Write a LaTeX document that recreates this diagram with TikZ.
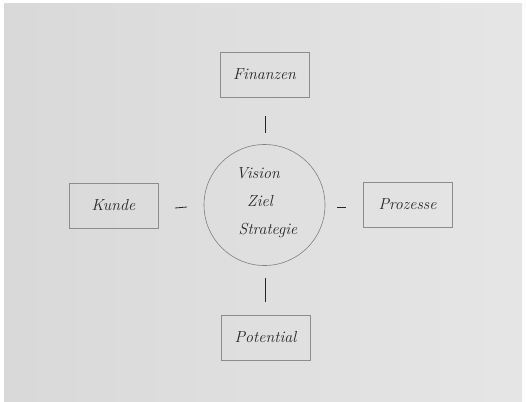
\documentclass[tikz,border=0pt]{standalone}
\begin{document}
\begin{tikzpicture}[x=1pt,y=-1pt,
  box/.style={draw=black!45, line width=0.7pt, minimum width=89pt, minimum height=45pt, inner sep=0pt, font=\itshape\fontsize{16}{18}\selectfont, text=black!85},
  ring/.style={circle, draw=black!50, line width=0.6pt, minimum size=121pt, inner sep=0pt},
  lbl/.style={font=\itshape\fontsize{16}{18}\selectfont, text=black!85, inner sep=0pt},
  tick/.style={draw=black!85, line width=0.8pt}
]
\useasboundingbox (0,0) rectangle (526,401);
\fill[white] (0,0) rectangle (526,401);
\shade[left color=black!15, right color=black!10] (4,4) rectangle (522,401);
\node[box] (fin) at (264.5,74.5) {Finanzen};
\node[box] (kun) at (113.5,205.5) {Kunde};
\node[box] (pro) at (407.5,204.5) {Prozesse};
\node[box] (pot) at (265.5,337.5) {Potential};
\node[ring] (c) at (264.5,205) {};
\node[lbl] (v) at (258,173) {Vision};
\node[lbl] (z) at (260,201) {Ziel};
\node[lbl] (s) at (268,230) {Strategie};
\coordinate (t1a) at (265,116); \coordinate (t1b) at (265,133);
\coordinate (t2a) at (175,208); \coordinate (t2b) at (187,207);
\coordinate (t3a) at (337,207); \coordinate (t3b) at (346,207);
\coordinate (t4a) at (265,278); \coordinate (t4b) at (265,302);
\draw[tick] (t1a) -- (t1b);
\draw[tick] (t2a) -- (t2b);
\draw[tick] (t3a) -- (t3b);
\draw[tick] (t4a) -- (t4b);
\end{tikzpicture}
\end{document}
